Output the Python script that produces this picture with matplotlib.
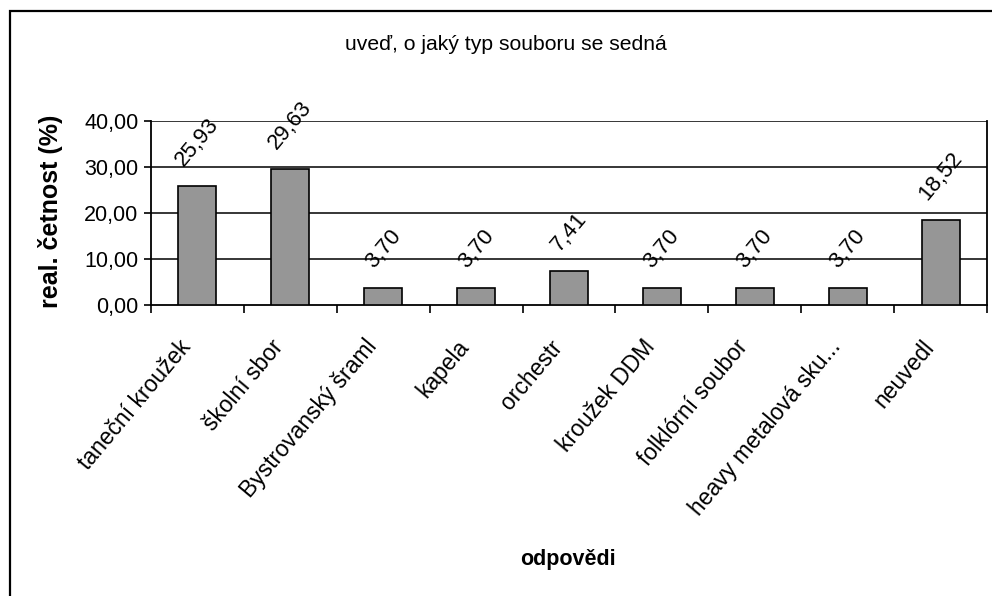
import matplotlib
matplotlib.use("Agg")
import matplotlib.pyplot as plt
from matplotlib.patches import Rectangle

# data
categories = ["taneční kroužek", "školní sbor", "Bystrovanský šraml", "kapela",
              "orchestr", "kroužek DDM", "folklórní soubor", "heavy metalová sku...",
              "neuvedl"]
values = [25.93, 29.63, 3.70, 3.70, 7.41, 3.70, 3.70, 3.70, 18.52]
yticks = [0, 10, 20, 30, 40]

title = "uveď, o jaký typ souboru se sedná"
xlabel = "odpovědi"
ylabel = "real. četnost (%)"

plt.rcParams['font.family'] = ['Liberation Sans', 'DejaVu Sans']

W, H = 992, 596
fig = plt.figure(figsize=(W / 100, H / 100), dpi=100, facecolor='white')

# outer chart border (right and bottom edges fall outside the image)
fig.add_artist(Rectangle((10 / W, -0.1), 1.2, 1 - 11 / H + 0.1, transform=fig.transFigure,
                         fill=False, edgecolor='black', linewidth=1.6, clip_on=False))

left, right, top, bottom = 151, 987, 121, 305
ax = fig.add_axes([left / W, 1 - bottom / H, (right - left) / W, (bottom - top) / H])

x = list(range(len(categories)))
ax.bar(x, values, width=0.41, color='#969696', edgecolor='black', linewidth=1.2, zorder=3)

ax.set_xlim(-0.5, len(categories) - 0.5)
ax.set_ylim(yticks[0], yticks[-1])

for y in yticks[1:]:
    ax.axhline(y, color='black', linewidth=1.1, zorder=1)

for side in ['left', 'bottom', 'right']:
    ax.spines[side].set_linewidth(1.3)
ax.spines['top'].set_visible(False)

ax.set_yticks(yticks)
ax.set_yticklabels([f"{v:.2f}".replace('.', ',') for v in yticks], fontsize=15.5)
ax.tick_params(axis='y', direction='out', length=5, width=1.2, pad=4)

# category boundaries carry the ticks, labels sit at the bar centres
ax.set_xticks([i - 0.5 for i in range(len(categories) + 1)])
ax.set_xticklabels([])
ax.tick_params(axis='x', which='major', direction='out', length=6, width=1.2)

for i, name in zip(x, categories):
    ax.annotate(name, xy=(i, 0), xytext=(-14, -22), textcoords='offset points',
                rotation=50, ha='right', va='top', rotation_mode='anchor',
                fontsize=16.5, annotation_clip=False)

for i, v in zip(x, values):
    ax.annotate(f"{v:.2f}".replace('.', ','), xy=(i, v), xytext=(0, 11),
                textcoords='offset points', rotation=50, ha='center', va='bottom',
                fontsize=16)

fig.text(506 / W, 1 - 44 / H, title, ha='center', va='center', fontsize=15.2)
fig.text(568 / W, 1 - 559 / H, xlabel, ha='center', va='center', fontsize=15.5,
         fontweight='bold')
fig.text(51 / W, 1 - 211 / H, ylabel, ha='center', va='center', rotation=90,
         fontsize=18, fontweight='bold')

fig.savefig('out.png', dpi=100, facecolor='white')
